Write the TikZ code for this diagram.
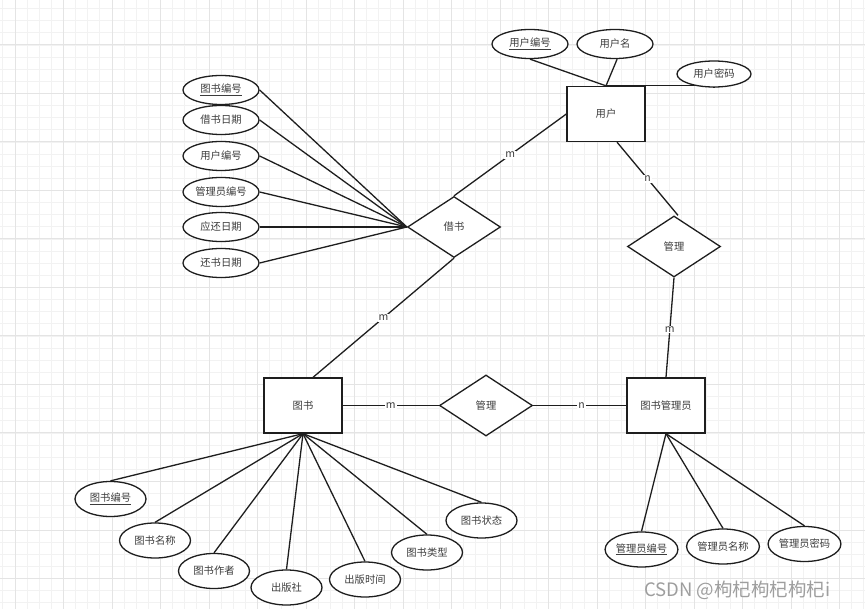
\documentclass[tikz,border=0pt]{standalone}
\usepackage{fontspec}
\newfontfamily\cjk{Noto Sans CJK SC}
\usetikzlibrary{shapes.geometric}
\pgfdeclarelayer{gridlayer}
\pgfdeclarelayer{linklayer}
\pgfsetlayers{gridlayer,linklayer,main}
\definecolor{gridminor}{HTML}{F2F2F2}
\definecolor{gridmajor}{HTML}{E4E4E4}
\definecolor{ink}{HTML}{1E1E1E}
\definecolor{txt}{HTML}{3C3C3C}
\tikzset{
  base/.style={draw=ink, line width=1.3pt, fill=white, text=txt, font=\cjk\fontsize{10.3}{12}\selectfont, inner sep=0pt},
  entity/.style={base, rectangle, minimum width=78pt, minimum height=55pt},
  rel/.style={base, diamond, aspect=1.5, minimum width=93pt, minimum height=61pt},
  attr/.style={base, ellipse, minimum width=76pt, minimum height=29pt},
  attrb/.style={base, ellipse, minimum width=71pt, minimum height=35pt},
  conn/.style={draw=ink, line width=1.3pt},
  card/.style={fill=white, text=txt, font=\cjk\fontsize{10.5}{12}\selectfont, inner sep=1pt}
}
\begin{document}
\begin{tikzpicture}[x=1pt,y=-1pt]
\useasboundingbox (0,0) rectangle (865,609);
\begin{pgfonlayer}{gridlayer}
\fill[white] (0,0) rectangle (865,609);
\foreach \i in {0,...,71} {
  \draw[gridminor, line width=0.8pt] ({2.875+12.125*\i},0) -- ({2.875+12.125*\i},609);
}
\foreach \i in {0,...,50} {
  \draw[gridminor, line width=0.8pt] (0,{8.625+12.125*\i}) -- (865,{8.625+12.125*\i});
}
\foreach \i in {0,...,17} {
  \draw[gridmajor, line width=1pt] ({15+48.5*\i},0) -- ({15+48.5*\i},609);
}
\foreach \i in {1,...,12} {
  \draw[gridmajor, line width=1pt] (0,{-3.5+48.5*\i}) -- (865,{-3.5+48.5*\i});
}
\end{pgfonlayer}

% entities
\node[entity] (yh) at (606,114) {用户};
\node[entity] (tu) at (303,405.5) {图书};
\node[entity] (glr) at (666,405.5) {图书管理员};

% relationships
\node[rel] (jie) at (454,227) {借书};
\node[rel] (gl1) at (486,405.5) {管理};
\node[rel] (gl2) at (674,246.5) {管理};

% user attributes
\node[attr] (u1) at (530,44) {\underline{用户编号}};
\node[attr] (u2) at (615,44) {用户名};
\node[attr, minimum width=74pt, minimum height=26pt] (u3) at (714,74) {用户密码};

% borrow attributes
\node[attr] (j1) at (221,90) {\underline{图书编号}};
\node[attr] (j2) at (221,120) {借书日期};
\node[attr] (j3) at (221,156) {用户编号};
\node[attr] (j4) at (221,192) {管理员编号};
\node[attr] (j5) at (221,227) {应还日期};
\node[attr] (j6) at (221,263) {还书日期};

% book attributes
\node[attrb] (b1) at (110.5,499) {\underline{图书编号}};
\node[attrb] (b2) at (155,540.5) {图书名称};
\node[attrb] (b3) at (214,571) {图书作者};
\node[attrb] (b4) at (286.5,587.5) {出版社};
\node[attrb] (b5) at (365,579.5) {出版时间};
\node[attrb] (b6) at (427,552.5) {图书类型};
\node[attrb] (b7) at (481.5,520.5) {图书状态};

% admin attributes
\node[attrb] (a1) at (641.5,549.5) {\underline{管理员编号}};
\node[attrb] (a2) at (723,546.5) {管理员名称};
\node[attrb] (a3) at (804.5,544) {管理员密码};

% connectors
\begin{pgfonlayer}{linklayer}
\draw[conn] (u1.south) -- (yh.north);
\draw[conn] (u2.-82) -- (yh.north);
\draw[conn] (yh.north) -- (yh.north -| u3.south) -- (u3.south);

\foreach \j in {j1,j2,j3,j4,j5,j6} {
  \draw[conn] (\j.east) -- (jie.west);
}
\foreach \b in {b1,b2,b3,b4,b5,b6,b7} {
  \draw[conn] (tu.south) -- (\b.north);
}
\foreach \a in {a1,a2,a3} {
  \draw[conn] (glr.south) -- (\a.north);
}

\draw[conn] (yh.west) -- node[card, pos=0.5] {m} (jie.north);
\draw[conn] (jie.south) -- node[card, pos=0.5] {m} ([xshift=10pt]tu.north);
\draw[conn] ([xshift=11pt]yh.south) -- node[card, pos=0.5] {n} ([xshift=4pt]gl2.north);
\draw[conn] (gl2.south) -- node[card, pos=0.52] {m} (glr.north);
\draw[conn] (tu.east) -- node[card, pos=0.5] {m} (gl1.west);
\draw[conn] (gl1.east) -- node[card, pos=0.52] {n} (glr.west);
\end{pgfonlayer}

% watermark
\node[anchor=west, inner sep=0pt, text=black!38, font=\cjk\fontsize{18.5}{20}\selectfont] (wm) at (644,590) {CSDN @枸杞枸杞枸杞i};
\end{tikzpicture}
\end{document}
